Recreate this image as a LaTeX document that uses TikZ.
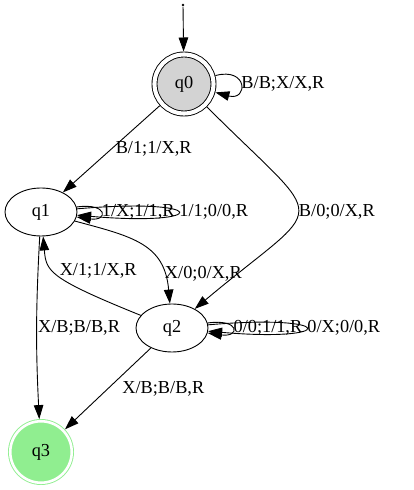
\documentclass[tikz,border=0pt]{standalone}
\usepackage{fontspec}
\setmainfont{Liberation Serif}
\usetikzlibrary{arrows.meta,shapes.geometric}
\definecolor{stategray}{RGB}{211,211,211}
\definecolor{stategreen}{RGB}{144,238,144}

\begin{document}
\begin{tikzpicture}[->,>={Triangle[length=14pt,width=9.5pt]},x=1pt,y=1pt,
  line width=0.9pt,font=\fontsize{18.3}{20}\selectfont,
  state node/.style={ellipse,draw,minimum width=72pt,minimum height=48pt,inner sep=0pt},
  final node/.style={circle,draw,double,inner sep=0pt},
  lbl/.style={inner sep=1pt}]

  \useasboundingbox (0,0) rectangle (413,490);

  \node[circle,fill,inner sep=1pt] (start) at (183,485) {};
  \node[final node,fill=stategray,minimum size=59pt,double distance=4.1pt,
    outer sep=3pt] (q0) at (184,406) {q0};
  \node[state node] (q1) at (41,278) {q1};
  \node[state node] (q2) at (172,162) {q2};
  \node[final node,draw=stategreen,fill=stategreen,minimum size=61.5pt,
    double distance=2.6pt,outer sep=2.2pt] (q3) at (41,38) {q3};

  \path[->]
    (start) edge (q0)
    (q0) edge[out=15,in=-15,distance=34pt] node[lbl,right] {B/B;X/X,R} (q0)
    (q0) edge node[lbl,right=3pt] {B/1;1/X,R} (q1)
    (q0) edge[out=-45,in=40,distance=175pt] node[lbl,right] {B/0;0/X,R} (q2)
    (q1) edge[out=8,in=-8,distance=32pt] node[lbl,right] {1/X;1/1,R} (q1)
    (q1) edge[out=5,in=-5,distance=135pt] node[lbl,right] {1/1;0/0,R} (q1)
    (q1) edge[out=-15,in=95,distance=60pt] node[lbl,right,pos=0.8] {X/0;0/X,R} (q2)
    (q2) edge[out=158,in=-85,out distance=100pt,in distance=35pt]
      node[pos=0.5,anchor=south west,inner sep=1pt,yshift=-5pt] {X/1;1/X,R} (q1)
    (q2) edge[out=8,in=-8,distance=33pt] node[lbl,right] {0/0;1/1,R} (q2)
    (q2) edge[out=5,in=-5,distance=131pt] node[lbl,right] {0/X;0/0,R} (q2)
    (q1) edge[bend right=3] node[lbl,right] {X/B;B/B,R} (q3)
    (q2) edge node[lbl,right=13pt] {X/B;B/B,R} (q3);

\end{tikzpicture}
\end{document}
